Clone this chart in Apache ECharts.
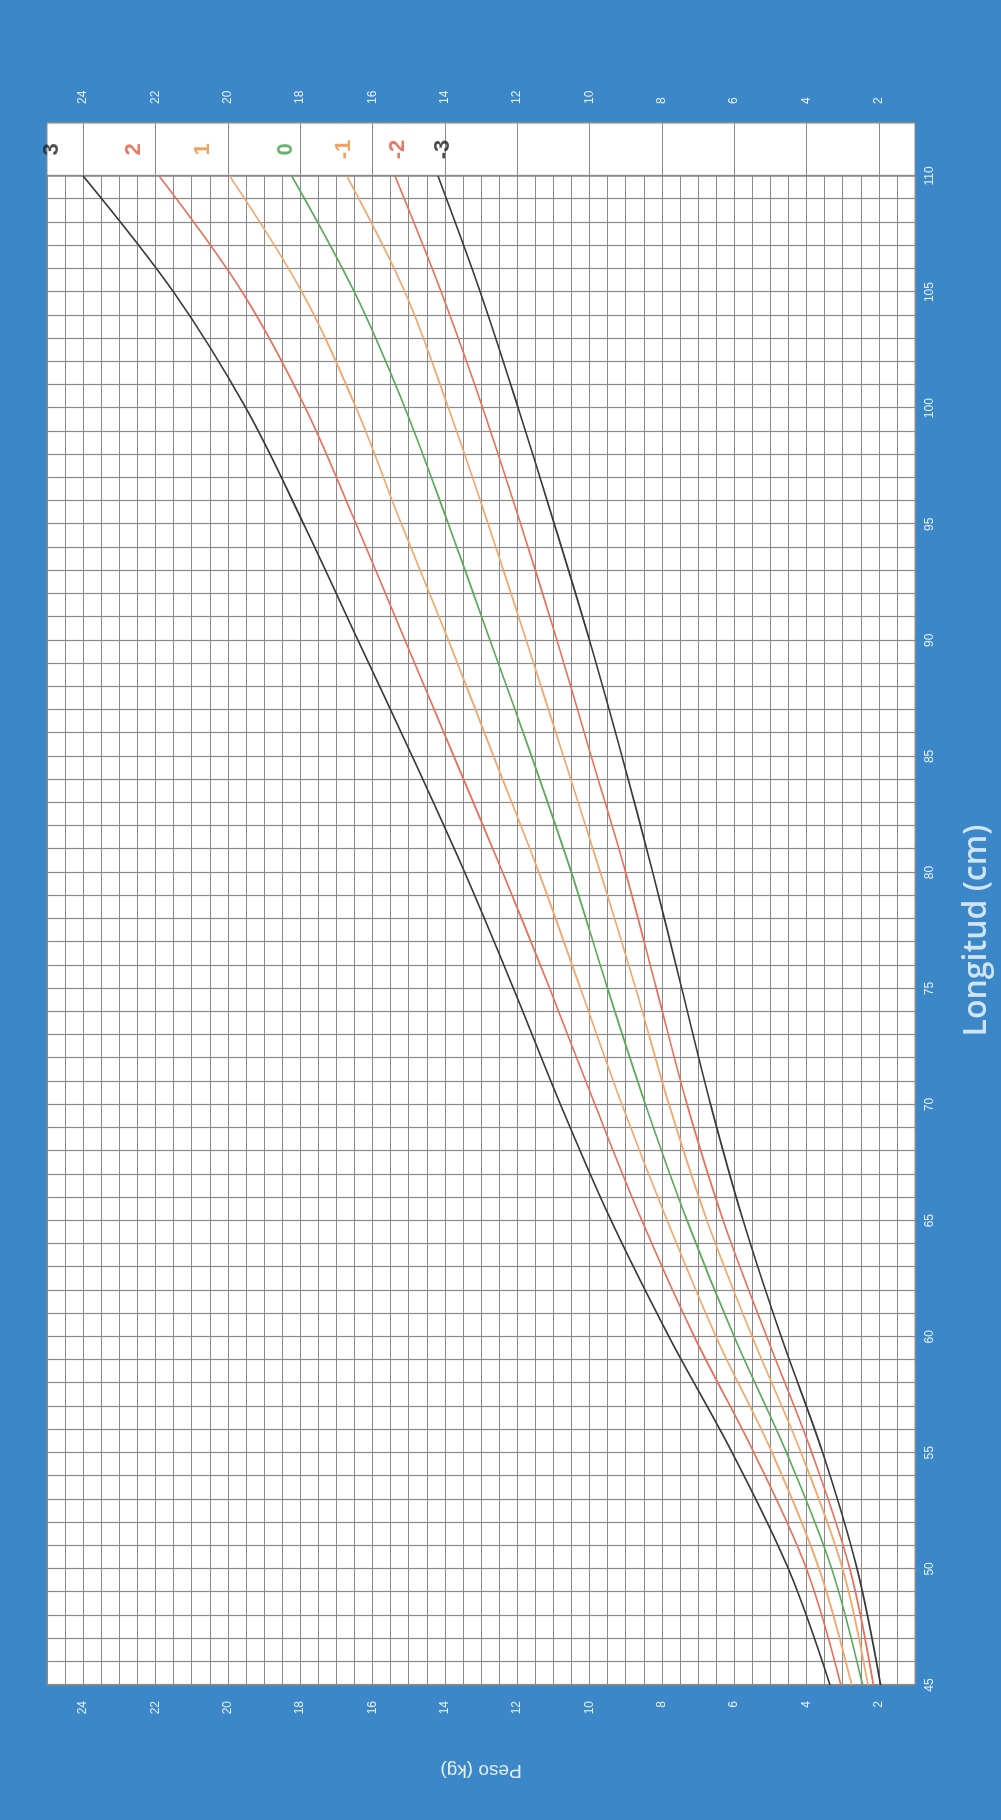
<!DOCTYPE html>
<html>
<head>
<meta charset="utf-8">
<script src="https://cdn.jsdelivr.net/npm/echarts/dist/echarts.min.js"></script>
<style>
  html, body { margin: 0; padding: 0; overflow: hidden; background: #3b87c8; }
  /* chart is drawn landscape, then turned a quarter to the left like the scan */
  #chart {
    position: absolute; left: 0; top: 0;
    width: 1820px; height: 1001px;
    transform-origin: 0 0;
    transform: translate(0, 1820px) rotate(-90deg);
  }
</style>
</head>
<body>
<div id="chart"></div>
<script>
// longitud (cm) and peso (kg) por puntaje z
const longitud = [45, 50, 55, 60, 65, 70, 75, 80, 85, 90, 95, 100, 105, 110]
const sdPos3 = [3.35, 4.5, 6.05, 7.8, 9.4, 10.8, 12.1, 13.45, 14.9, 16.4, 17.9, 19.5, 21.5, 24.0]
const sdPos2 = [3.05, 4.0, 5.45, 7.1, 8.55, 9.85, 11.1, 12.4, 13.75, 15.1, 16.45, 17.85, 19.6, 21.9]
const sdPos1 = [2.75, 3.65, 4.95, 6.5, 7.85, 9.1, 10.25, 11.4, 12.65, 13.9, 15.2, 16.45, 17.95, 19.95]
const sd0 = [2.45, 3.3, 4.55, 6.0, 7.3, 8.45, 9.5, 10.5, 11.6, 12.75, 13.9, 15.1, 16.5, 18.23]
const sdNeg1 = [2.3, 3.0, 4.15, 5.5, 6.75, 7.8, 8.72, 9.7, 10.72, 11.75, 12.8, 13.9, 15.1, 16.71]
const sdNeg2 = [2.15, 2.8, 3.85, 5.1, 6.3, 7.3, 8.15, 9.0, 9.95, 10.9, 11.9, 12.95, 14.1, 15.38]
const sdNeg3 = [1.95, 2.6, 3.55, 4.7, 5.75, 6.65, 7.45, 8.25, 9.1, 10.0, 10.97, 11.97, 13.02, 14.19]

// labels in the strip past 110 cm, and the peso where each one sits
const zNames = ['3', '2', '1', '0', '-1', '-2', '-3']
const zLabelPeso = [24.86, 22.6, 20.7, 18.4, 16.8, 15.3, 14.05]

const curves = [sdPos3, sdPos2, sdPos1, sd0, sdNeg1, sdNeg2, sdNeg3]
const curveColors = ['#3a3a3a', '#e8705a', '#f3a66a', '#5aaa5a', '#f3a66a', '#e8705a', '#3a3a3a']
const textColors = ['#222222', '#e5583a', '#f08a3c', '#3ea047', '#f08a3c', '#e5583a', '#222222']

const gridColor = '#8a8a8a'
const labelColor = '#e8f1fa'

const chart = echarts.init(document.getElementById('chart'))

const lineSeries = curves.map((vals, i) => ({
  name: zNames[i],
  type: 'line',
  xAxisIndex: 0,
  yAxisIndex: 0,
  data: longitud.map((l, j) => [l, vals[j]]),
  smooth: 0.35,
  symbol: 'none',
  lineStyle: { color: curveColors[i], width: 1.7 },
  z: 5
}))

chart.setOption({
  backgroundColor: '#3b87c8',
  animation: false,
  grid: [
    { left: 135, right: 176, top: 47, bottom: 86, show: true, backgroundColor: '#ffffff', borderColor: gridColor, borderWidth: 1 },
    { left: 1644, width: 53, top: 47, bottom: 86, show: true, backgroundColor: '#ffffff', borderColor: gridColor, borderWidth: 1 }
  ],
  xAxis: [
    {
      gridIndex: 0,
      type: 'value',
      min: 45,
      max: 110,
      interval: 1,
      name: 'Longitud (cm)',
      nameLocation: 'middle',
      nameGap: 46,
      nameTextStyle: { color: '#cfe4f6', fontSize: 32, fontWeight: 600, fontFamily: 'Open Sans' },
      axisLine: { show: false },
      axisTick: { show: false },
      axisLabel: {
        margin: 9,
        color: labelColor,
        fontSize: 12,
        fontFamily: 'Liberation Sans',
        formatter: v => (v % 5 === 0 ? String(v) : '')
      },
      splitLine: { show: true, lineStyle: { color: gridColor, width: 1.2 } }
    },
    {
      gridIndex: 1,
      type: 'value',
      min: 0,
      max: 1,
      interval: 1,
      axisLine: { show: false },
      axisTick: { show: false },
      axisLabel: { show: false },
      splitLine: { show: true, lineStyle: { color: gridColor, width: 1.2 } }
    }
  ],
  yAxis: [
    {
      gridIndex: 0,
      type: 'value',
      min: 1,
      max: 25,
      interval: 1,
      name: 'Peso (kg)',
      nameLocation: 'middle',
      nameGap: 76,
      nameTextStyle: { color: '#e3eef9', fontSize: 19, fontFamily: 'Liberation Sans' },
      axisLine: { show: false },
      axisTick: { show: false },
      axisLabel: {
        margin: 16,
        color: labelColor,
        fontSize: 12,
        fontFamily: 'Liberation Sans',
        formatter: v => (v % 2 === 0 ? String(v) : '')
      },
      splitLine: { show: true, lineStyle: { color: gridColor, width: 1.2 } },
      minorTick: { show: false, splitNumber: 2 },
      minorSplitLine: { show: true, lineStyle: { color: gridColor, width: 1.2 } }
    },
    {
      gridIndex: 1,
      type: 'value',
      position: 'right',
      min: 1,
      max: 25,
      interval: 1,
      axisLine: { show: false },
      axisTick: { show: false },
      axisLabel: {
        margin: 19,
        color: labelColor,
        fontSize: 12,
        fontFamily: 'Liberation Sans',
        formatter: v => (v % 2 === 0 ? String(v) : '')
      },
      // only even kg split the label boxes
      splitLine: { show: true, lineStyle: { color: ['rgba(0,0,0,0)', gridColor], width: 1.2 } }
    }
  ],
  series: lineSeries.concat([{
    type: 'scatter',
    xAxisIndex: 1,
    yAxisIndex: 1,
    symbolSize: 1,
    itemStyle: { color: 'rgba(0,0,0,0)' },
    silent: true,
    data: zNames.map((n, i) => ({
      value: [0.5, zLabelPeso[i]],
      label: { color: textColors[i] }
    })),
    label: {
      show: true,
      position: 'inside',
      fontSize: 22,
      fontWeight: 'bold',
      fontFamily: 'Liberation Sans',
      formatter: p => zNames[p.dataIndex]
    },
    z: 6
  }])
})
</script>
</body>
</html>
